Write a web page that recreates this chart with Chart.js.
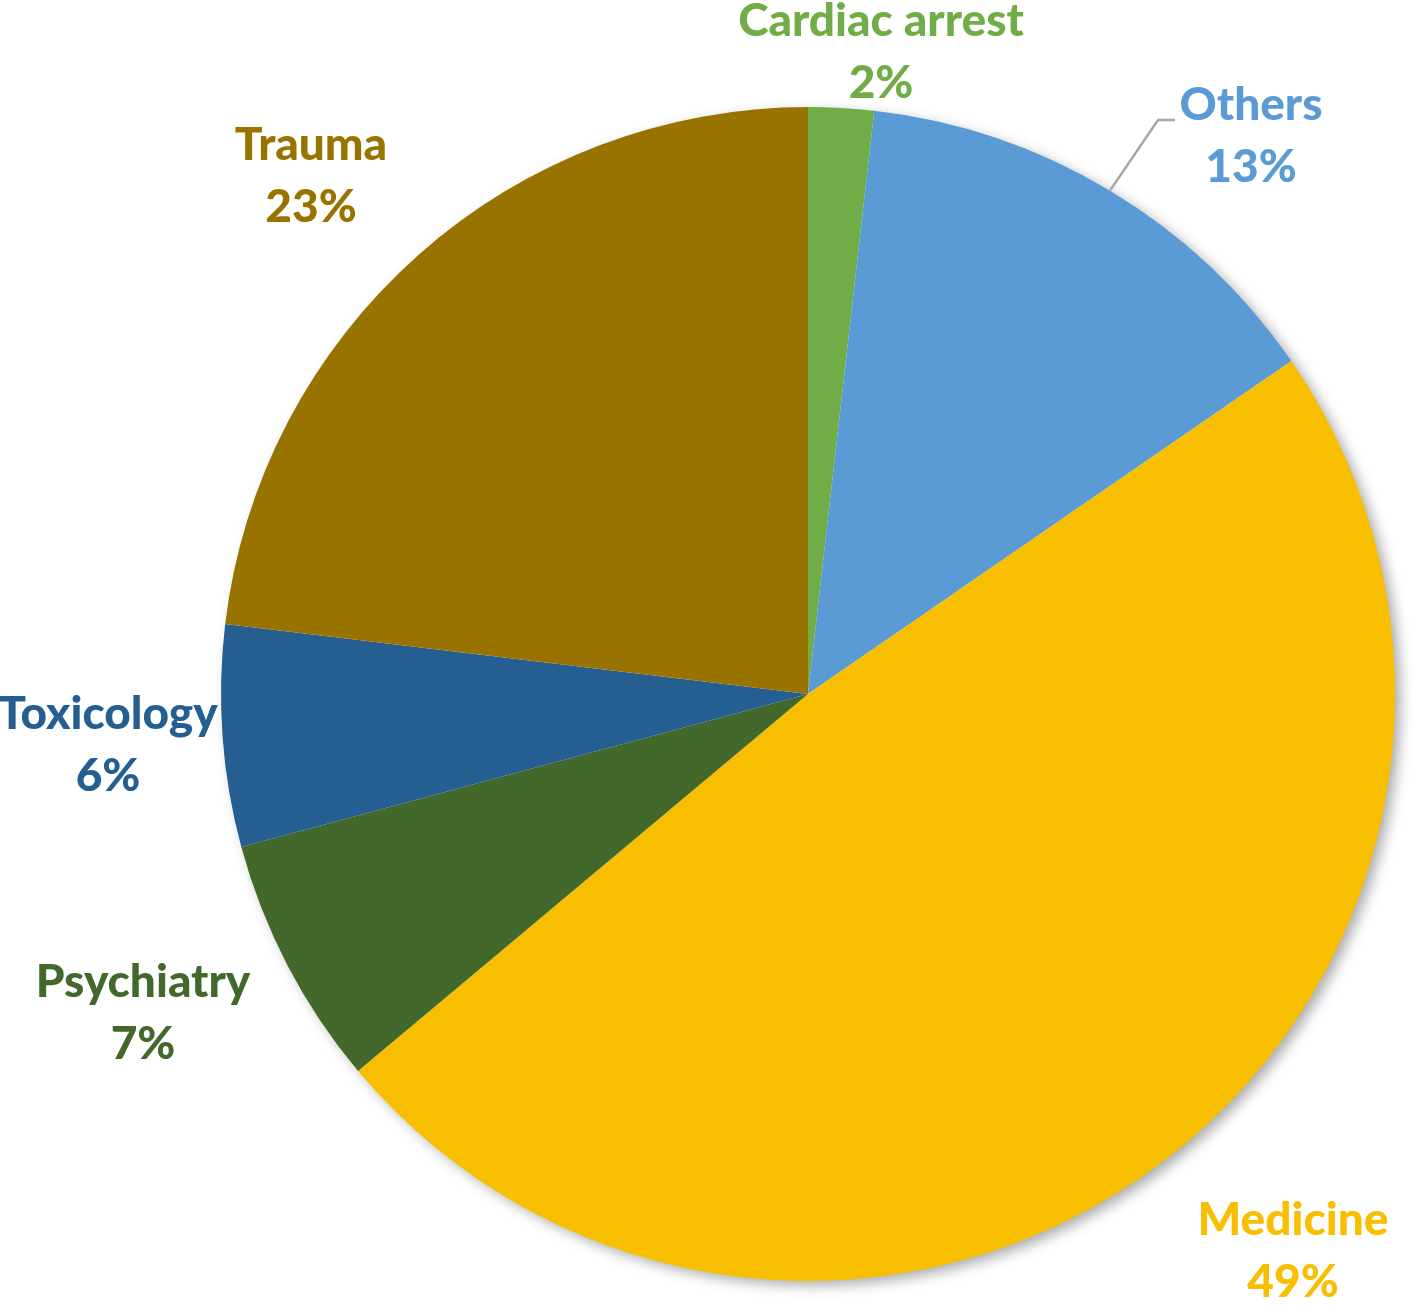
<!DOCTYPE html>
<html>
<head>
<meta charset="utf-8">
<script src="https://cdn.jsdelivr.net/npm/chart.js@4/dist/chart.umd.min.js"></script>
<style>
  html, body { margin: 0; padding: 0; background: #fff; }
  #wrap { width: 1418px; height: 1308px; position: relative; }
</style>
</head>
<body>
<div id="wrap"><canvas id="chart"></canvas></div>
<script>
// data (share of cases, clockwise from 12 o'clock)
const categories = ['Cardiac arrest', 'Others', 'Medicine', 'Psychiatry', 'Toxicology', 'Trauma']
const shares = [1.8, 13.6, 48.5, 6.9, 6.1, 23.1]
const shareLabels = ['2%', '13%', '49%', '7%', '6%', '23%']
const sliceColors = ['#70AD47', '#5B9BD5', '#F8BE00', '#43682B', '#255E91', '#997300']

// where each label block sits (centre x, first line y)
const labelSpots = [
    {x: 881, y: 21},
    {x: 1251, y: 105},
    {x: 1293, y: 1220},
    {x: 143, y: 982},
    {x: 108, y: 714},
    {x: 311, y: 145}
]

const pieShadow = {
    id: 'pieShadow',
    beforeDatasetsDraw(chart) {
        const arc = chart.getDatasetMeta(0).data[0]
        if (!arc) return
        const ctx = chart.ctx
        ctx.save()
        ctx.shadowColor = 'rgba(0, 0, 0, 0.35)'
        ctx.shadowBlur = 14
        ctx.shadowOffsetX = 6
        ctx.shadowOffsetY = 5
        ctx.fillStyle = '#fff'
        ctx.beginPath()
        ctx.arc(arc.x, arc.y, arc.outerRadius - 1, 0, Math.PI * 2)
        ctx.fill()
        ctx.restore()
    }
}

const outsideLabels = {
    id: 'outsideLabels',
    afterDatasetsDraw(chart) {
        const ctx = chart.ctx
        const meta = chart.getDatasetMeta(0)
        ctx.save()

        // leader line for "Others"
        const other = meta.data[1]
        const mid = (other.startAngle + other.endAngle) / 2
        const sx = other.x + Math.cos(mid) * other.outerRadius
        const sy = other.y + Math.sin(mid) * other.outerRadius
        ctx.strokeStyle = '#A6A6A6'
        ctx.lineWidth = 2.5
        ctx.beginPath()
        ctx.moveTo(sx, sy)
        ctx.lineTo(labelSpots[1].x - 93, labelSpots[1].y + 15)
        ctx.lineTo(labelSpots[1].x - 76, labelSpots[1].y + 15)
        ctx.stroke()

        ctx.font = '900 46px Lato, "Open Sans", sans-serif'
        ctx.textAlign = 'center'
        ctx.textBaseline = 'middle'
        categories.forEach((name, i) => {
            const p = labelSpots[i]
            ctx.fillStyle = sliceColors[i]
            ctx.fillText(name, p.x, p.y)
            ctx.fillText(shareLabels[i], p.x, p.y + 62)
        })
        ctx.restore()
    }
}

new Chart(document.getElementById('chart'), {
    type: 'pie',
    data: {
        labels: categories,
        datasets: [{
            data: shares,
            backgroundColor: sliceColors,
            borderWidth: 0
        }]
    },
    options: {
        responsive: true,
        maintainAspectRatio: false,
        animation: false,
        layout: {
            padding: {left: 221, right: 23, top: 107, bottom: 27}
        },
        plugins: {
            legend: {display: false},
            tooltip: {enabled: false}
        }
    },
    plugins: [pieShadow, outsideLabels]
})
</script>
</body>
</html>
